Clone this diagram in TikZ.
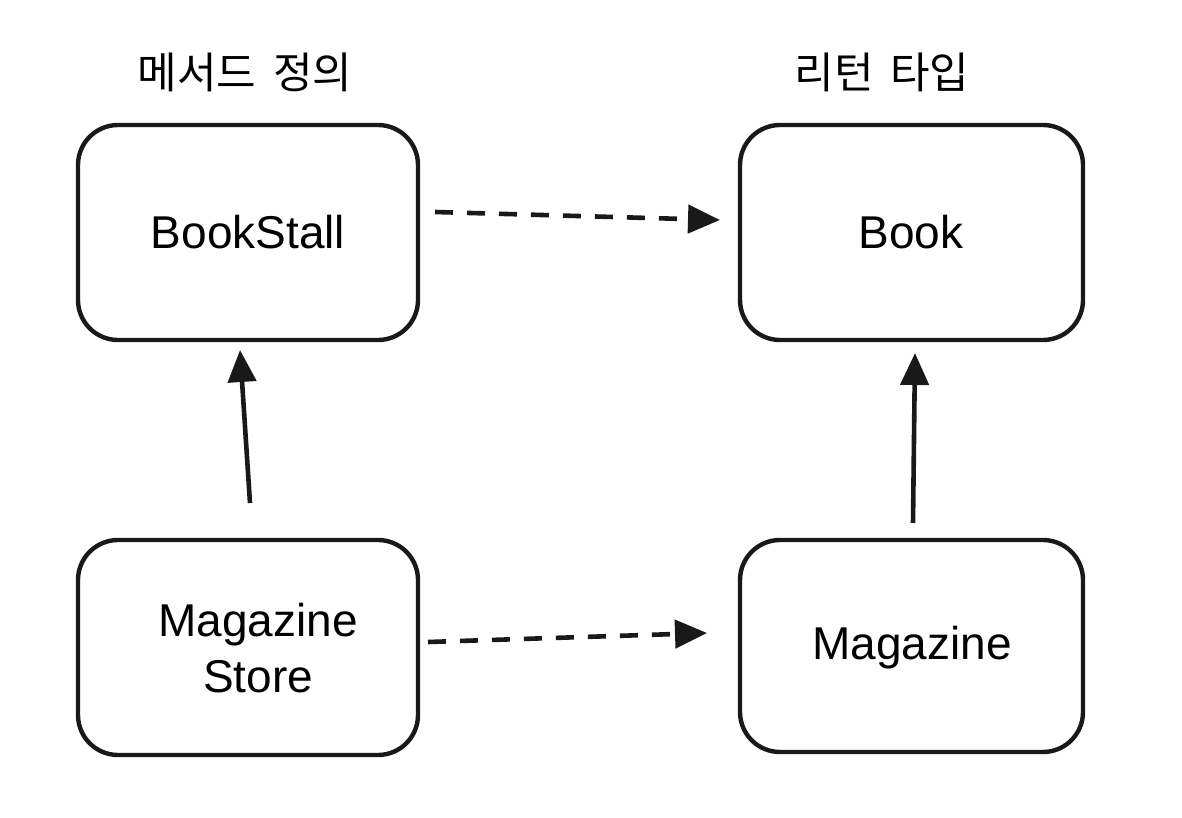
\documentclass[tikz,border=0pt]{standalone}
\usepackage{fontspec}
\setmainfont{Liberation Sans}
\newfontfamily\krfont{Noto Sans CJK KR}
\usetikzlibrary{arrows.meta}
\begin{document}
\begin{tikzpicture}[x=0.5pt,y=-0.5pt,
  box/.style={draw=black!90,line width=2.2pt,rounded corners=20pt},
  boxtext/.style={font=\fontsize{23}{28}\selectfont,align=center},
  head/.style={font=\krfont\fontsize{21.5}{26}\selectfont},
  conn/.style={line width=2.3pt,draw=black!90,-{Triangle[length=16pt,width=14pt]}},
  dashconn/.style={conn,dash pattern=on 9pt off 7pt}]
\useasboundingbox (0,0) rectangle (1182,818);
\fill[white] (0,0) rectangle (1182,818);
\draw[box] (78,125) rectangle (418,340);
\node[boxtext] (bookstall) at (248,232) {BookStall};
\draw[box] (740,125) rectangle (1083,340);
\node[boxtext] (book) at (911,232) {Book};
\draw[box] (78,540) rectangle (418,755);
\node[boxtext] (magstore) at (258,648) {Magazine\\Store};
\draw[box] (740,540) rectangle (1083,752);
\node[boxtext] (mag) at (912,648) {Magazine};
\node[head] (h1) at (245,72) {메서드\ \,정의};
\node[head] (h2) at (882,72) {리턴\ \,타입};
\coordinate (a1s) at (435,212); \coordinate (a1e) at (720,220);
\coordinate (a2s) at (428,642); \coordinate (a2e) at (707,633);
\coordinate (a3s) at (250,503); \coordinate (a3e) at (240,350);
\coordinate (a4s) at (913,523); \coordinate (a4e) at (915,353);
\draw[dashconn] (a1s) -- (a1e);
\draw[dashconn] (a2s) -- (a2e);
\draw[conn] (a3s) -- (a3e);
\draw[conn] (a4s) -- (a4e);
\end{tikzpicture}
\end{document}
